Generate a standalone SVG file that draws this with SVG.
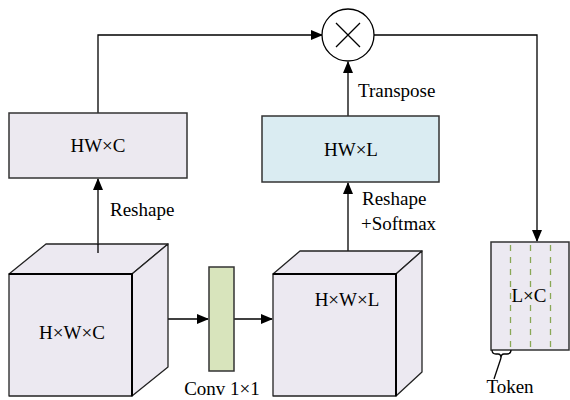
<svg xmlns="http://www.w3.org/2000/svg" width="570" height="400" viewBox="0 0 570 400">
<defs>
<marker id="ah" markerWidth="12" markerHeight="10" refX="11" refY="5" orient="auto" markerUnits="userSpaceOnUse">
<path d="M0,0 L12,5 L0,10 Z" fill="#000"/>
</marker>
<style>
.t{font-family:"Liberation Serif","Times New Roman",serif;font-size:19px;fill:#000}
.m{text-anchor:middle}
.box{stroke:#333;stroke-width:1.5}
.cube{fill:#ece9f1;stroke:#222;stroke-width:1.3;stroke-linejoin:round}
.edge{fill:none;stroke:#000;stroke-width:2}
.ln{fill:none;stroke:#000;stroke-width:1.3}
.dash{stroke:#8aa856;stroke-width:1.3;stroke-dasharray:6,6}
</style>
</defs>
<rect width="570" height="400" fill="#fff"/>

<g id="connectors">
<path class="ln" d="M98,113 V35 H322" marker-end="url(#ah)"/>
<path class="ln" d="M348,116 V62" marker-end="url(#ah)"/>
<path class="ln" d="M374,35 H537 V241" marker-end="url(#ah)"/>
<path class="ln" d="M98,253 V179" marker-end="url(#ah)"/>
<path class="ln" d="M348,261 V183" marker-end="url(#ah)"/>
<path class="ln" d="M158,319 H208" marker-end="url(#ah)"/>
<path class="ln" d="M234,319 H272" marker-end="url(#ah)"/>
<text class="t" x="110" y="216">Reshape</text>
<text class="t" x="358" y="97">Transpose</text>
<text class="t" x="362" y="205">Reshape</text>
<text class="t" x="361" y="230">+Softmax</text>
</g>

<g id="mult">
<circle cx="348" cy="35" r="26" fill="#fff" stroke="#000" stroke-width="1.3"/>
<path d="M336,23 L360,47 M360,23 L336,47" stroke="#000" stroke-width="1.3"/>
</g>

<g id="hwc">
<rect class="box" x="9" y="113" width="178" height="65" fill="#ece9f0"/>
<text class="t m" x="98" y="152">HW×C</text>
</g>

<g id="hwl">
<rect class="box" x="262" y="116" width="177" height="66" fill="#daecf2"/>
<text class="t m" x="351" y="156">HW×L</text>
</g>

<g id="cube1">
<path class="cube" d="M9,274 L46,244 L168,244 L132,274 Z"/>
<path class="cube" d="M132,274 L168,244 L168,367 L132,396 Z"/>
<rect class="cube" x="9" y="274" width="123" height="122"/>
<path class="edge" d="M9,274 H132 V396"/>
<path class="ln" d="M98,244 V253"/>
<text class="t m" x="72" y="339">H×W×C</text>
</g>

<g id="conv">
<rect class="box" x="209" y="267" width="25" height="104" fill="#d8e4bc"/>
<text class="t m" x="222" y="395">Conv 1×1</text>
</g>

<g id="cube2">
<path class="cube" d="M273,274 L300,251 L422,251 L396,274 Z"/>
<path class="cube" d="M396,274 L422,251 L422,372 L396,396 Z"/>
<rect class="cube" x="273" y="274" width="123" height="122"/>
<path class="edge" d="M273,274 H396 V396"/>
<text class="t m" x="347" y="306">H×W×L</text>
</g>

<g id="lc">
<rect class="box" x="491" y="242" width="78" height="108" fill="#ece9f1"/>
<line class="dash" x1="510.5" y1="245" x2="510.5" y2="350"/>
<line class="dash" x1="530.5" y1="245" x2="530.5" y2="350"/>
<line class="dash" x1="550.5" y1="245" x2="550.5" y2="350"/>
<text class="t m" x="529" y="302">L×C</text>
</g>

<g id="token">
<path class="ln" d="M492,350 Q492,354 496,354 L498,354 Q501,354 501,358 Q501,354 504,354 L507,354 Q511,354 511,350"/>
<path class="ln" d="M501,358 L494,379"/>
<text class="t m" x="510" y="393">Token</text>
</g>
</svg>
